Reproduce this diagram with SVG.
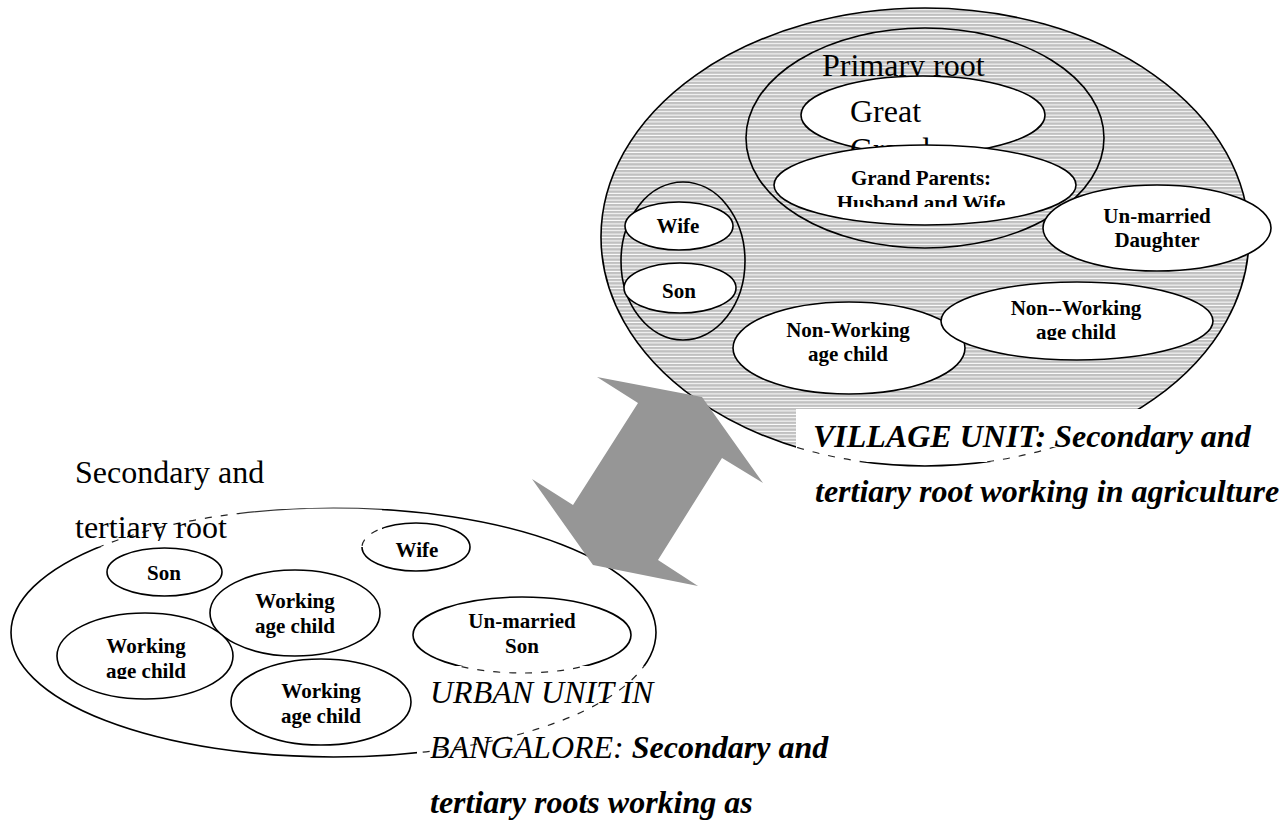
<svg xmlns="http://www.w3.org/2000/svg" width="1283" height="821" viewBox="0 0 1283 821">
<defs>
<pattern id="hatch" patternUnits="userSpaceOnUse" width="10" height="3.4">
<rect width="10" height="3.4" fill="#ffffff"/>
<rect width="10" height="2.4" fill="#c0c0c0"/>
</pattern>
<clipPath id="cPrim"><rect x="800" y="30" width="220" height="47"/></clipPath>
<clipPath id="cGP2"><rect x="800" y="190" width="250" height="17"/></clipPath>
<clipPath id="cNW2"><rect x="990" y="320" width="180" height="20"/></clipPath>
<clipPath id="cTert"><rect x="60" y="505" width="220" height="36"/></clipPath>
<clipPath id="cWL2"><rect x="80" y="660" width="140" height="19"/></clipPath>
<clipPath id="cBoxS"><rect x="75" y="455" width="307" height="92"/></clipPath>
<clipPath id="cBoxSa"><rect x="75" y="455" width="165" height="92"/></clipPath>
<clipPath id="cBoxSb"><rect x="240" y="455" width="142" height="92"/></clipPath>
<clipPath id="cBoxU"><rect x="417" y="666" width="420" height="155"/></clipPath>
<clipPath id="cBoxV"><rect x="796" y="447" width="470" height="15"/></clipPath>
<clipPath id="cBoxSolid"><rect x="850" y="462" width="160" height="10"/></clipPath>
</defs>
<style>
.o{stroke:#000;stroke-width:1.6;fill:#fff}
.h{stroke:#000;stroke-width:1.6;fill:url(#hatch)}
.b{font-family:"Liberation Serif","Times New Roman",serif;font-weight:bold;font-size:21px;fill:#000;text-anchor:middle}
.r{font-family:"Liberation Serif","Times New Roman",serif;font-size:32px;fill:#000}
.bi{font-family:"Liberation Serif","Times New Roman",serif;font-size:32px;font-style:italic;fill:#000}
.d{fill:none;stroke:#222;stroke-width:1.2;stroke-dasharray:7 9}
.t{fill:none;stroke:#333;stroke-width:1.2}
</style>

<g id="village">
<g id="village-unit"><ellipse class="h" cx="925" cy="237" rx="324" ry="229"/></g>
<g id="primary-root">
<ellipse class="h" cx="925" cy="138" rx="179" ry="110"/>
<text class="r" x="822" y="76" clip-path="url(#cPrim)">Primary root</text>
</g>
<g id="great-grand">
<ellipse class="o" cx="923" cy="115" rx="122" ry="39"/>
<text class="r" x="850" y="122">Great</text>
<text class="r" x="850" y="160">Grand</text>
</g>
<g id="grand-parents">
<ellipse class="o" cx="925" cy="185" rx="151" ry="40"/>
<text class="b" x="921" y="185">Grand Parents:</text>
<text class="b" x="921" y="210" clip-path="url(#cGP2)">Husband and Wife</text>
</g>
<g id="son-wife-pair"><ellipse class="h" cx="683" cy="261" rx="62" ry="79"/></g>
<g id="v-wife"><ellipse class="o" cx="679" cy="226" rx="54" ry="24"/><text class="b" x="678" y="233">Wife</text></g>
<g id="v-son"><ellipse class="o" cx="680" cy="288" rx="56" ry="25"/><text class="b" x="679" y="298">Son</text></g>
<g id="v-daughter"><ellipse class="o" cx="1157" cy="228" rx="114" ry="43"/>
<text class="b" x="1157" y="223">Un-married</text><text class="b" x="1157" y="247">Daughter</text></g>
<g id="v-nonworking-1"><ellipse class="o" cx="849" cy="348" rx="116" ry="46"/>
<text class="b" x="848" y="337">Non-Working</text><text class="b" x="848" y="361">age child</text></g>
<g id="v-nonworking-2"><ellipse class="o" cx="1077" cy="321" rx="136" ry="39"/>
<text class="b" x="1076" y="315">Non--Working</text><text class="b" x="1076" y="339" clip-path="url(#cNW2)">age child</text></g>
<g id="village-label">
<rect x="796" y="409" width="487" height="62" fill="#fff"/>
<ellipse class="d" cx="925" cy="237" rx="324" ry="229" clip-path="url(#cBoxV)"/>
<ellipse fill="none" stroke="#000" stroke-width="1.6" cx="925" cy="237" rx="324" ry="229" clip-path="url(#cBoxSolid)"/>
<text class="bi" x="813" y="447" font-weight="bold">VILLAGE UNIT: Secondary and</text>
<text class="bi" x="815" y="502" font-weight="bold">tertiary root working in agriculture</text>
</g>
</g>

<g id="urban">
<g id="urban-unit"><ellipse class="o" cx="333.5" cy="632.5" rx="322.5" ry="124.5"/></g>
<g id="u-wife"><ellipse class="o" cx="416" cy="547" rx="54" ry="24"/><text class="b" x="417" y="557">Wife</text></g>
<g id="u-son"><ellipse class="o" cx="164.5" cy="572" rx="57.5" ry="24"/><text class="b" x="164" y="580">Son</text></g>
<g id="u-working-1"><ellipse class="o" cx="295" cy="613" rx="85" ry="43"/>
<text class="b" x="295" y="608">Working</text><text class="b" x="295" y="633">age child</text></g>
<g id="u-working-2"><ellipse class="o" cx="145" cy="656" rx="88" ry="43"/>
<text class="b" x="146" y="653">Working</text><text class="b" x="146" y="678" clip-path="url(#cWL2)">age child</text></g>
<g id="u-working-3"><ellipse class="o" cx="321" cy="702" rx="90" ry="43"/>
<text class="b" x="321" y="698">Working</text><text class="b" x="321" y="723">age child</text></g>
<g id="u-unmarried-son"><ellipse class="o" cx="522" cy="635" rx="109" ry="38"/>
<text class="b" x="522" y="628">Un-married</text><text class="b" x="522" y="653">Son</text></g>
<g id="urban-root-label">
<rect x="75" y="455" width="307" height="92" fill="#fff"/>
<ellipse class="d" cx="333.5" cy="632.5" rx="322.5" ry="124.5" clip-path="url(#cBoxSa)"/>
<ellipse class="t" cx="333.5" cy="632.5" rx="322.5" ry="124.5" clip-path="url(#cBoxSb)"/>
<ellipse class="d" cx="416" cy="547" rx="54" ry="24" clip-path="url(#cBoxS)"/>
<text class="r" x="75" y="483">Secondary and</text>
<text class="r" x="75" y="538" clip-path="url(#cTert)">tertiary root</text>
</g>
<g id="urban-label">
<rect x="417" y="666" width="420" height="155" fill="#fff"/>
<ellipse class="d" cx="333.5" cy="632.5" rx="322.5" ry="124.5" clip-path="url(#cBoxU)"/>
<ellipse class="d" cx="522" cy="635" rx="109" ry="38" clip-path="url(#cBoxU)"/>
<text class="bi" x="430" y="703">URBAN UNIT IN</text>
<text class="bi" x="430" y="758">BANGALORE: <tspan font-weight="bold">Secondary and</tspan></text>
<text class="bi" x="430" y="813" font-weight="bold">tertiary roots working as</text>
</g>
</g>

<g id="connectors">
<polygon points="702,397 763,483 722,458 658,560 698,586 593,565 532,479 573,505 638,403 597,377" fill="#969696"/>
</g>
</svg>
